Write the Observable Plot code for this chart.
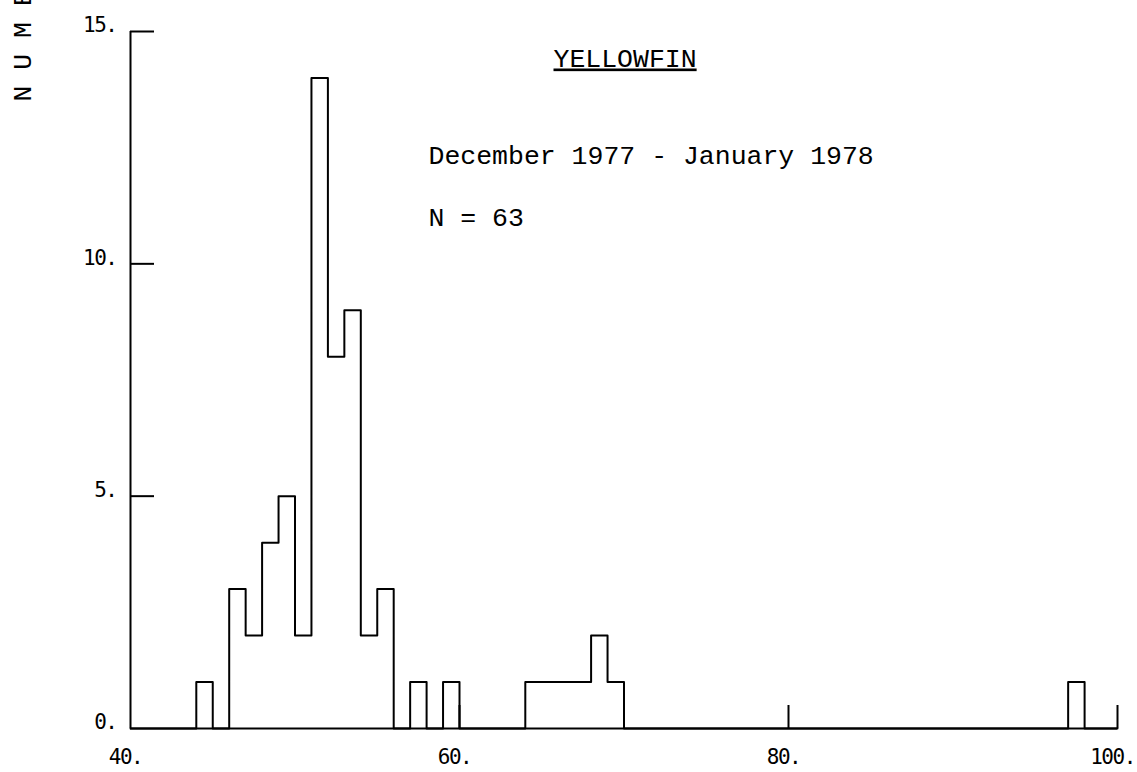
<!DOCTYPE html>
<html>
<head>
<meta charset="utf-8">
<script src="https://cdn.jsdelivr.net/npm/d3@7"></script>
<script src="https://cdn.jsdelivr.net/npm/@observablehq/plot@0.6"></script>
<style>
  html, body { margin: 0; padding: 0; background: #fff; }
  svg { display: block; }
</style>
</head>
<body>
<div id="chart"></div>
<script>
// Histogram bins (lower edge, width 1) with non-zero counts
const binLower = [44, 46, 47, 48, 49, 50, 51, 52, 53, 54, 55, 57, 59, 64, 65, 66, 67, 68, 69, 97];
const binCount = [1, 3, 2, 4, 5, 2, 14, 8, 9, 2, 3, 1, 1, 1, 1, 1, 1, 2, 1, 1];
const xTicks = [40, 60, 80, 100];
const yTicks = [0, 5, 10, 15];
const titleText = "YELLOWFIN";
const periodText = "December 1977 - January 1978";
const nText = "N = 63";
const yLabelText = "N U M B E R";

// Build the step outline from the bins
const countMap = new Map(binLower.map((b, i) => [b, binCount[i]]));
const steps = [];
for (let x = xTicks[0]; x < xTicks[xTicks.length - 1]; x++) steps.push({x, y: countMap.get(x) || 0});
steps.push({x: xTicks[xTicks.length - 1], y: 0});

const W = 1137, H = 772;
const mL = 130, mR = 20, mT = 31, mB = 44;
const frameW = W - mL - mR, frameH = H - mT - mB;

const serif = "'Courier New', 'Liberation Mono', monospace";
const plotter = "'DejaVu Sans Mono', monospace";

const chart = Plot.plot({
  width: W,
  height: H,
  marginLeft: mL,
  marginRight: mR,
  marginTop: mT,
  marginBottom: mB,
  style: {background: "#fff", color: "#000", overflow: "visible"},
  x: {domain: [xTicks[0], xTicks[xTicks.length - 1]], axis: null},
  y: {domain: [yTicks[0], yTicks[yTicks.length - 1]], axis: null},
  marks: [
    // axes lines
    Plot.ruleY([0], {stroke: "#000", strokeWidth: 2}),
    Plot.ruleX([xTicks[0]], {y1: yTicks[0], y2: yTicks[yTicks.length - 1], stroke: "#000", strokeWidth: 2}),
    // inward tick marks
    Plot.ruleX(xTicks.slice(1), {stroke: "#000", strokeWidth: 2, insetTop: frameH - 23}),
    Plot.ruleY(yTicks.slice(1), {stroke: "#000", strokeWidth: 2, insetRight: frameW - 24}),
    // histogram outline
    Plot.line(steps, {x: "x", y: "y", curve: "step-after", stroke: "#000", strokeWidth: 2}),
    // tick labels
    Plot.text(xTicks, {x: d => d, frameAnchor: "bottom", text: d => d + ".", lineAnchor: "top", dy: 21, dx: -5, fontSize: 21, fontFamily: plotter, fill: "#000"}),
    Plot.text(yTicks, {y: d => d, frameAnchor: "left", text: d => d + ".", textAnchor: "end", dx: -14, dy: -6, fontSize: 21, fontFamily: plotter, fill: "#000"}),
    // annotations
    Plot.text([titleText], {frameAnchor: "top-left", dx: 423, dy: 35, textAnchor: "start", lineAnchor: "bottom", fontSize: 26.5, fontFamily: serif, fill: "#000"}),
    Plot.text([periodText], {frameAnchor: "top-left", dx: 298, dy: 132, textAnchor: "start", lineAnchor: "bottom", fontSize: 26.5, fontFamily: serif, fill: "#000"}),
    Plot.text([nText], {frameAnchor: "top-left", dx: 298, dy: 194, textAnchor: "start", lineAnchor: "bottom", fontSize: 26.5, fontFamily: serif, fill: "#000"}),
    Plot.text([yLabelText], {frameAnchor: "top-left", dx: 22 - mL, dy: 101 - mT, rotate: -90, textAnchor: "start", lineAnchor: "middle", fontSize: 26.5, fontFamily: serif, fill: "#000"})
  ]
});

const svg = d3.select(chart);
svg.selectAll("text").filter(function() { return this.textContent === titleText; })
  .attr("text-decoration", "underline");
svg.selectAll("text").filter(function() { return /^\d+\.$/.test(this.textContent); })
  .attr("letter-spacing", "-1.5");

document.getElementById("chart").appendChild(chart);
</script>
</body>
</html>
